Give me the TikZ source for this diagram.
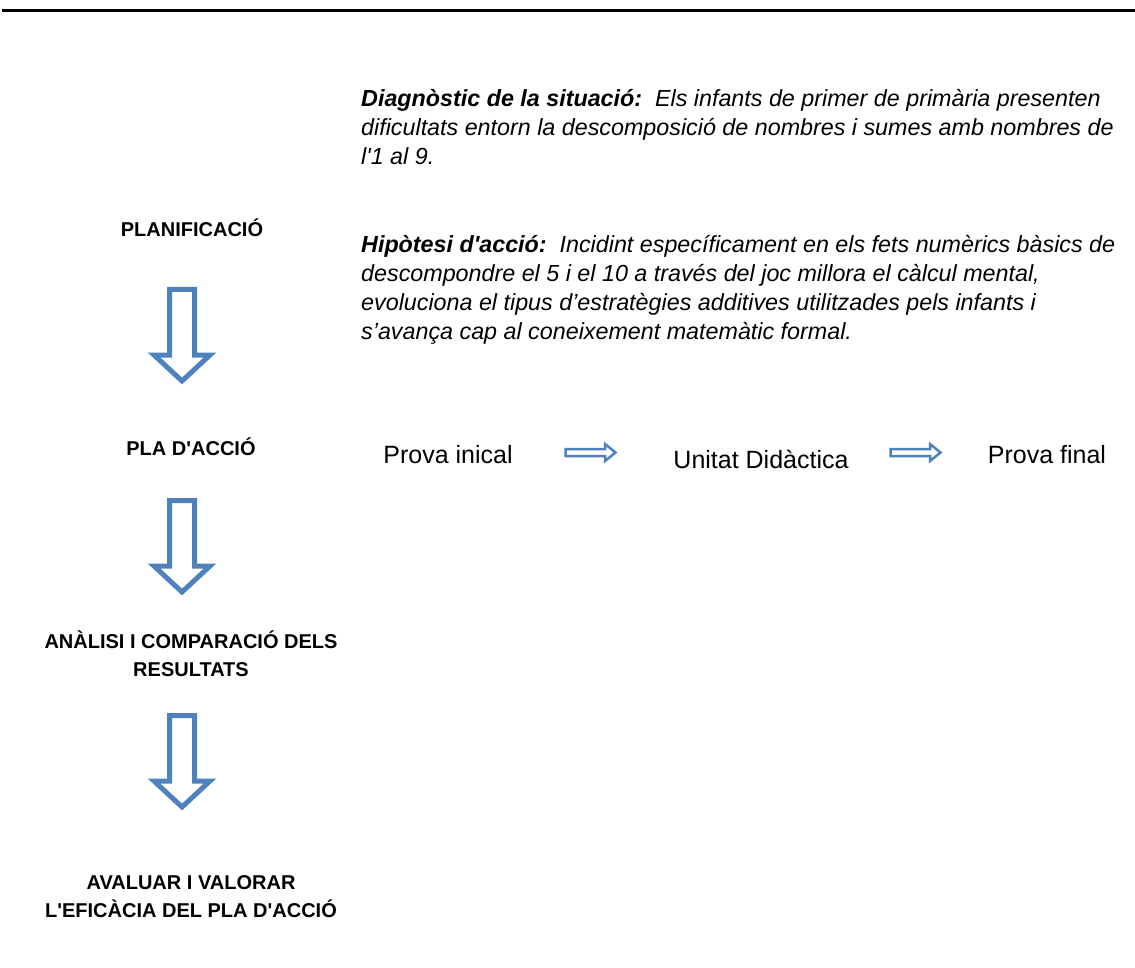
\documentclass[tikz,border=0pt]{standalone}
\usepackage{fontspec}
\setmainfont{Liberation Sans}[Ligatures=TeXOff]
\usepackage{xcolor}
\usetikzlibrary{positioning, calc}
\definecolor{arrowblue}{HTML}{4F81BD}

\begin{document}
\begin{tikzpicture}[x=1pt, y=-1pt,
    step label/.style={font=\bfseries\fontsize{20}{28}\selectfont, align=center, inner sep=0pt},
    task label/.style={font=\fontsize{25}{30}\selectfont, inner sep=0pt},
    body text/.style={font=\itshape\fontsize{23.3}{29}\selectfont, align=left, inner sep=0pt, anchor=north west},
    bigarrow/.style={draw=arrowblue, line width=5pt, fill=white, line join=miter},
    smallarrow/.style={draw=arrowblue, line width=2.5pt, fill=white, line join=miter},
    pics/downblock/.style={code={
      \draw[bigarrow] (-12.5,2.5) -- (12.5,2.5) -- (12.5,68) -- (28,68) -- (0,94)
        -- (-28,68) -- (-12.5,68) -- cycle;
    }},
    pics/rightblock/.style={code={
      \draw[smallarrow] (1.5,-3.5) -- (41,-3.5) -- (41,-8.5) -- (51.5,0) -- (41,8.5)
        -- (41,3.5) -- (1.5,3.5) -- cycle;
    }}]
    \useasboundingbox (0,0) rectangle (1135,968);

    % Top rule
    \draw[line width=3pt] (2,11) -- (1135,11);

    % Steps
    \node[step label] (plan) at (192,228) {PLANIFICACIÓ};
    \node[step label] (pla) at (191,447) {PLA D'ACCIÓ};
    \node[step label] (analisi) at (191,654) {ANÀLISI I COMPARACIÓ DELS\\RESULTATS};
    \node[step label] (avaluar) at (191,897) {AVALUAR I VALORAR\\L'EFICÀCIA DEL PLA D'ACCIÓ};

    % Arrows between steps
    \pic at (182,287) {downblock};
    \pic at (182,498) {downblock};
    \pic at (182,713) {downblock};

    % Diagnosis and hypothesis
    \node[body text] (diag) at (361,89)
      {\textbf{Diagnòstic de la situació:}\ \ Els infants de primer de primària presenten\\
       dificultats entorn la descomposició de nombres i sumes amb nombres de\\
       l'1 al 9.};
    \node[body text] (hipo) at (361,235)
      {\textbf{Hipòtesi d'acció:}\ \ Incidint específicament en els fets numèrics bàsics de\\
       descompondre el 5 i el 10 a través del joc millora el càlcul mental,\\
       evoluciona el tipus d’estratègies additives utilitzades pels infants i\\
       s’avança cap al coneixement matemàtic formal.};

    % Action plan
    \node[task label] (inicial) at (448,455) {Prova inical};
    \node[task label] (unitat) at (761,459) {Unitat Didàctica};
    \node[task label] (final) at (1047,455) {Prova final};
    \pic at (564,452.5) {rightblock};
    \pic at (889,452.5) {rightblock};
\end{tikzpicture}
\end{document}
